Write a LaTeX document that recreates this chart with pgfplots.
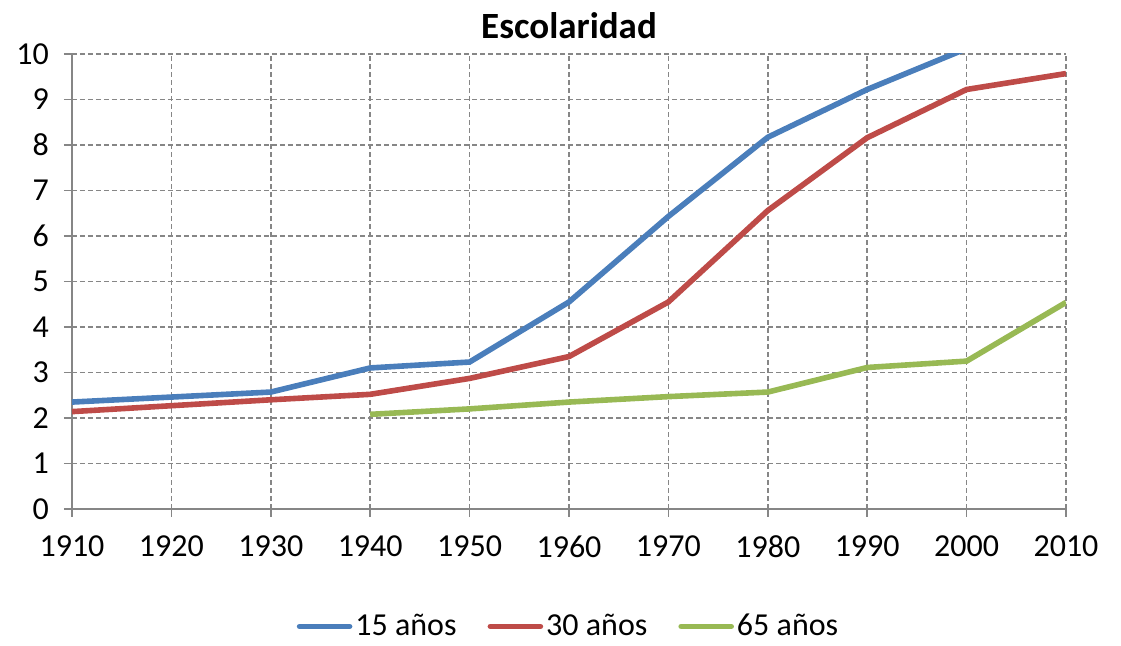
\documentclass[border=0pt]{standalone}
\usepackage{fontspec}
\setmainfont{Carlito}
\usepackage{pgfplots}
\pgfplotsset{compat=1.18}

\definecolor{serA}{HTML}{4A7EBB}
\definecolor{serB}{HTML}{BE4B48}
\definecolor{serC}{HTML}{98B954}
\definecolor{gridc}{HTML}{868686}

\begin{document}
\begin{tikzpicture}
% page frame: keeps the white margins of the reference
\useasboundingbox (-36pt,-68.5pt) rectangle (524.5pt,254.5pt);
\begin{axis}[
    scale only axis,
    width=497pt, height=227.5pt,
    xmin=1910, xmax=2010, ymin=0, ymax=10,
    xtick={1910,1920,...,2010}, ytick={0,1,...,10},
    axis lines*=left,
    axis line style={gridc, line width=0.8pt},
    tick style={gridc, line width=0.8pt},
    tick align=outside, major tick length=4pt,
    grid=major,
    major grid style={gridc, dash pattern=on 2.5pt off 1.5pt, line width=0.8pt},
    /pgf/number format/assume math mode=true,
    /pgf/number format/1000 sep={},
    tick label style={font=\fontsize{16}{19}\selectfont},
    xticklabel style={yshift=-6pt},
    yticklabel style={xshift=-4pt},
    title={\textbf{Escolaridad}},
    title style={font=\fontsize{18.5}{22}\selectfont, yshift=-2pt},
    legend style={draw=none, fill=none, at={(0.5,-0.258)}, anchor=center,
        legend columns=3, font=\fontsize{16}{19}\selectfont,
        inner sep=0pt, nodes={inner xsep=1.5pt, inner ysep=1pt},
        /tikz/every even column/.append style={column sep=14pt}},
    legend image code/.code={\draw[#1, line cap=round] (0pt,0pt) -- (25pt,0pt);},
    clip=true,
]
\addplot[serA, line width=2.8pt] coordinates {
    (1910,2.35) (1920,2.46) (1930,2.57) (1940,3.10) (1950,3.23) (1960,4.55)
    (1970,6.43) (1980,8.17) (1990,9.22) (2000,10.12)
};
\addplot[serB, line width=2.8pt] coordinates {
    (1910,2.14) (1920,2.27) (1930,2.40) (1940,2.52) (1950,2.87) (1960,3.35)
    (1970,4.55) (1980,6.56) (1990,8.16) (2000,9.22) (2010,9.57)
};
\addplot[serC, line width=2.8pt] coordinates {
    (1940,2.08) (1950,2.20) (1960,2.35) (1970,2.47) (1980,2.57) (1990,3.11)
    (2000,3.25) (2010,4.54)
};
\legend{15 años, 30 años, 65 años}
\end{axis}
\end{tikzpicture}
\end{document}
